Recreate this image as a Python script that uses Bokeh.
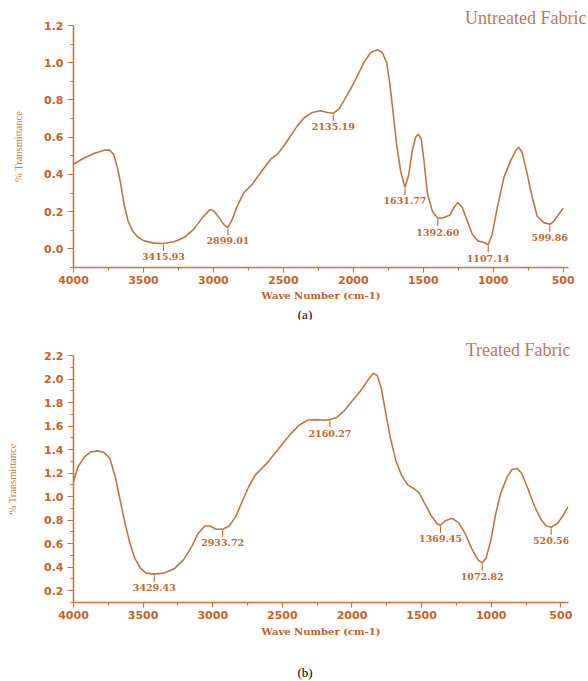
import numpy as np
from bokeh.plotting import figure
from bokeh.models import Range1d, FixedTicker, NumeralTickFormatter, Div
from bokeh.layouts import column
from bokeh.core.properties import value
from bokeh.embed import file_html
from bokeh.resources import INLINE

# ---------------- data ----------------
# (a) Untreated fabric
wn_a = [4000, 3924, 3853, 3781, 3746, 3714, 3686, 3662, 3639, 3610, 3579, 3543,
        3496, 3424, 3357, 3281, 3210, 3139, 3079, 3024, 2996, 2960, 2924, 2896,
        2864, 2829, 2781, 2721, 2662, 2591, 2543, 2496, 2448, 2400, 2353, 2293,
        2234, 2186, 2143, 2103, 2067, 2019, 1971, 1924, 1876, 1829, 1793, 1762,
        1739, 1714, 1691, 1662, 1631, 1603, 1579, 1555, 1536, 1514, 1493, 1471,
        1436, 1396, 1353, 1310, 1281, 1253, 1221, 1186, 1150, 1110, 1067, 1036,
        1007, 971, 924, 876, 841, 817, 793, 762, 721, 686, 639, 596, 567, 531, 500]
tr_a = [0.455, 0.488, 0.512, 0.530, 0.532, 0.509, 0.437, 0.348, 0.240, 0.150, 0.097, 0.065,
        0.043, 0.031, 0.029, 0.038, 0.061, 0.106, 0.168, 0.211, 0.204, 0.168, 0.129, 0.115,
        0.160, 0.231, 0.303, 0.348, 0.410, 0.482, 0.509, 0.554, 0.608, 0.661, 0.703, 0.733,
        0.742, 0.733, 0.729, 0.751, 0.796, 0.859, 0.930, 1.002, 1.055, 1.070, 1.055, 1.002,
        0.886, 0.724, 0.563, 0.419, 0.330, 0.401, 0.527, 0.599, 0.616, 0.590, 0.460, 0.300,
        0.204, 0.163, 0.168, 0.181, 0.222, 0.249, 0.222, 0.151, 0.079, 0.043, 0.034, 0.022,
        0.079, 0.222, 0.383, 0.473, 0.527, 0.545, 0.518, 0.419, 0.276, 0.177, 0.141, 0.132,
        0.147, 0.187, 0.219]
peak_text_a = ["3415.93", "2899.01", "2135.19", "1631.77", "1392.60", "1107.14", "599.86"]
peak_pos_a = [3357, 2896, 2143, 1631, 1396, 1036, 596]

# (b) Treated fabric
wn_b = [4000, 3968, 3922, 3875, 3828, 3781, 3739, 3700, 3665, 3630, 3595, 3560,
        3520, 3478, 3420, 3350, 3280, 3210, 3151, 3104, 3057, 3022, 2975, 2929,
        2882, 2835, 2789, 2742, 2695, 2637, 2602, 2555, 2497, 2439, 2380, 2322,
        2252, 2193, 2158, 2111, 2053, 1994, 1936, 1882, 1847, 1819, 1789, 1761,
        1726, 1686, 1644, 1598, 1551, 1516, 1481, 1434, 1387, 1364, 1329, 1282,
        1235, 1188, 1142, 1095, 1065, 1037, 1002, 967, 932, 885, 850, 815,
        780, 733, 687, 640, 605, 570, 523, 481, 449]
tr_b = [1.126, 1.253, 1.338, 1.380, 1.389, 1.375, 1.325, 1.169, 0.971, 0.774, 0.604, 0.477,
        0.392, 0.350, 0.341, 0.350, 0.384, 0.463, 0.575, 0.689, 0.751, 0.751, 0.723, 0.723,
        0.751, 0.830, 0.957, 1.084, 1.183, 1.253, 1.296, 1.367, 1.452, 1.536, 1.607, 1.649,
        1.655, 1.649, 1.655, 1.672, 1.734, 1.819, 1.903, 1.997, 2.050, 2.031, 1.918, 1.734,
        1.508, 1.310, 1.183, 1.098, 1.065, 1.030, 0.950, 0.844, 0.768, 0.757, 0.796, 0.816,
        0.779, 0.689, 0.562, 0.463, 0.435, 0.477, 0.632, 0.858, 1.028, 1.169, 1.231, 1.240,
        1.197, 1.056, 0.914, 0.802, 0.751, 0.740, 0.774, 0.844, 0.914]
peak_text_b = ["3429.43", "2933.72", "2160.27", "1369.45", "1072.82", "520.56"]
peak_pos_b = [3420, 2929, 2158, 1364, 1065, 570]

x_ticks = [4000, 3500, 3000, 2500, 2000, 1500, 1000, 500]
x_minor = [3750, 3250, 2750, 2250, 1750, 1250, 750]
y_ticks_a = [0.0, 0.2, 0.4, 0.6, 0.8, 1.0, 1.2]
y_minor_a = [-0.1, 0.1, 0.3, 0.5, 0.7, 0.9, 1.1]
y_ticks_b = [0.2, 0.4, 0.6, 0.8, 1.0, 1.2, 1.4, 1.6, 1.8, 2.0, 2.2]
y_minor_b = [0.1, 0.3, 0.5, 0.7, 0.9, 1.1, 1.3, 1.5, 1.7, 1.9, 2.1]

x_title = "Wave Number (cm-1)"
y_title = "% Transmittance"

# ---------------- styling ----------------
C_CURVE = "#C0743F"
C_AXIS = "#C9733A"
C_TICKLAB = "#C4631F"
C_PEAK = "#BD6A2E"
C_TITLE = "#B97A55"
C_XT = "#B8612A"
C_YT = "#C87A40"
W = 588


def panel(wn, tr, ptext, ppos, yt, ym, xr, yr, h, borders, title,
          title_offset, title_standoff, ylab_standoff, xlab_standoff):
    bl, br, bt, bb = borders
    p = figure(width=W, height=h, x_range=Range1d(*xr), y_range=Range1d(*yr),
               output_backend="svg", toolbar_location=None,
               min_border_left=bl, min_border_right=br, min_border_top=bt,
               min_border_bottom=bb, title=title)
    p.outline_line_color = None
    p.xgrid.visible = False
    p.ygrid.visible = False

    p.title.align = "right"
    p.title.text_font = "Liberation Serif"
    p.title.text_font_size = "18px"
    p.title.text_font_style = "normal"
    p.title.text_color = C_TITLE
    p.title.offset = title_offset
    p.title.standoff = title_standoff

    p.xaxis.ticker = FixedTicker(ticks=x_ticks, minor_ticks=x_minor)
    p.yaxis.ticker = FixedTicker(ticks=yt, minor_ticks=ym)
    p.yaxis.formatter = NumeralTickFormatter(format="0.0")
    for ax in (p.xaxis, p.yaxis):
        ax.axis_line_color = C_AXIS
        ax.axis_line_width = 1.6
        ax.major_tick_line_color = C_AXIS
        ax.minor_tick_line_color = C_AXIS
        ax.major_tick_line_width = 1.2
        ax.minor_tick_line_width = 1.2
        ax.major_tick_in = 0
        ax.minor_tick_in = 0
        ax.major_label_text_font = "DejaVu Sans"
        ax.major_label_text_font_style = "bold"
        ax.major_label_text_font_size = "11px"
        ax.major_label_text_color = C_TICKLAB
    p.xaxis.major_tick_out = 5
    p.xaxis.minor_tick_out = 3
    p.xaxis.major_label_standoff = 3
    p.yaxis.major_tick_out = 6
    p.yaxis.minor_tick_out = 3
    p.yaxis.major_label_standoff = 4

    p.xaxis.axis_label = x_title
    p.xaxis.axis_label_text_font = "DejaVu Serif"
    p.xaxis.axis_label_text_font_style = "bold"
    p.xaxis.axis_label_text_font_size = "10px"
    p.xaxis.axis_label_text_color = C_XT
    p.xaxis.axis_label_standoff = xlab_standoff

    p.yaxis.axis_label = y_title
    p.yaxis.axis_label_text_font = "Liberation Serif"
    p.yaxis.axis_label_text_font_style = "normal"
    p.yaxis.axis_label_text_font_size = "10.5px"
    p.yaxis.axis_label_text_color = C_YT
    p.yaxis.axis_label_standoff = ylab_standoff

    p.line(wn, tr, line_color=C_CURVE, line_width=1.6)

    # peak markers
    ppu = (h - bt - bb) / (yr[1] - yr[0])
    xs_asc = np.array(wn[::-1], dtype=float)
    ys_asc = np.array(tr[::-1], dtype=float)
    cy = np.interp(np.array(ppos, dtype=float), xs_asc, ys_asc)
    p.segment(x0=ppos, y0=cy - 1.0 / ppu, x1=ppos, y1=cy - 7.5 / ppu,
              line_color=C_PEAK, line_width=1.1)
    p.text(x=ppos, y=cy - 13.5 / ppu, text=ptext, text_font=value("DejaVu Serif"),
           text_font_style="bold", text_font_size="9.5px", text_color=C_PEAK,
           text_align="center", text_baseline="middle")
    return p


def caption(txt, h, pad_top, lh):
    html = ('<div style="width:%dpx;text-align:center;padding-left:22px;'
            'box-sizing:border-box;padding-top:%dpx;font-family:\'Liberation Serif\';'
            'font-size:13px;line-height:%dpx;color:black;">%s</div>'
            % (W, pad_top, lh, txt))
    return Div(text=html, width=W, height=h, margin=0)


p1 = panel(wn_a, tr_a, peak_text_a, peak_pos_a, y_ticks_a, y_minor_a,
           (4000, 462), (-0.1, 1.2), 307, (73, 20, 25, 40),
           "Untreated Fabric", -18, -4, 17, 3)
cap_a = caption("(a)", 12, 0, 12)
p2 = panel(wn_b, tr_b, peak_text_b, peak_pos_b, y_ticks_b, y_minor_b,
           (4000, 445), (0.1, 2.2), 325, (70, 10, 36, 42),
           "Treated Fabric", -2, -9, 23, 4)
cap_b = caption("(b)", 37, 22, 14)

layout = column(p1, cap_a, p2, cap_b, spacing=0)
open("out.html", "w").write(file_html(layout, INLINE))
